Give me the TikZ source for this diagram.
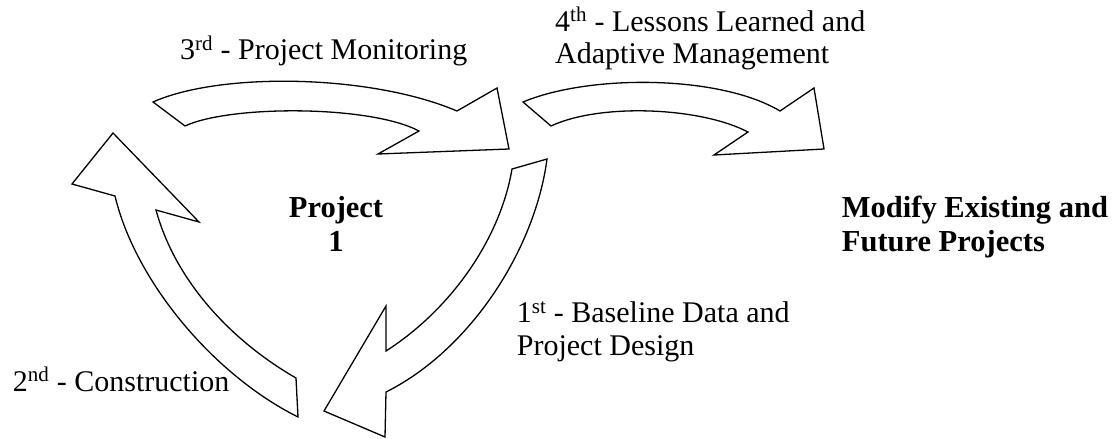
\documentclass[tikz,border=0pt]{standalone}
\usepackage{fontspec}
\setmainfont{Liberation Serif}
\begin{document}
\begin{tikzpicture}[x=1pt,y=-1pt,
  arrowshape/.style={draw=black, line width=1.3pt, line join=miter, fill=white},
  lbl/.style={font=\fontsize{30}{32.5}\selectfont, align=left, anchor=base west, inner sep=0pt},
  blbl/.style={font=\fontsize{30.5}{34}\selectfont\bfseries, align=left, anchor=base west, inner sep=0pt}]
\useasboundingbox (0,0) rectangle (1117,439);
% 3rd arrow (top)
\draw[arrowshape] (153,102) .. controls (220,72) and (370,74) .. (457,111) -- (497,88) -- (509,149) -- (378,154) -- (419,131) .. controls (370,105) and (230,105) .. (185,126) -- cycle;
% 4th arrow (top right)
\draw[arrowshape] (523,102) .. controls (590,74) and (720,75) .. (780,111) -- (814,88) -- (824,149) -- (714,155) -- (748,132) .. controls (700,107) and (600,103) .. (551,126) -- cycle;
% 1st arrow (right, going down)
\draw[arrowshape] (547,159) .. controls (535,250) and (470,350) .. (386,392) -- (385,437) -- (324,411) -- (386,306) -- (386,351) .. controls (450,310) and (500,240) .. (512,169) -- cycle;
% 2nd arrow (left, going up)
\draw[arrowshape] (298,417) .. controls (212,374) and (135,280) .. (115,196) -- (72,184) -- (113,133) -- (199,222) -- (156,210) .. controls (175,280) and (230,340) .. (296,378) -- cycle;
% labels (anchor = baseline of the last line)
\node[lbl] (monitor) at (180,59.5) {3\textsuperscript{rd} - Project Monitoring};
\node[lbl] (lessons) at (555,63.5) {4\textsuperscript{th} - Lessons Learned and\\Adaptive Management};
\node[lbl] (baseline) at (516.7,355) {1\textsuperscript{st} - Baseline Data and\\Project Design};
\node[lbl] (construct) at (12.7,391) {2\textsuperscript{nd} - Construction};
\node[blbl, align=center, anchor=base] (proj) at (336,251) {Project\\1};
\node[blbl] (modify) at (841.7,251) {Modify Existing and\\Future Projects};
\end{tikzpicture}
\end{document}
